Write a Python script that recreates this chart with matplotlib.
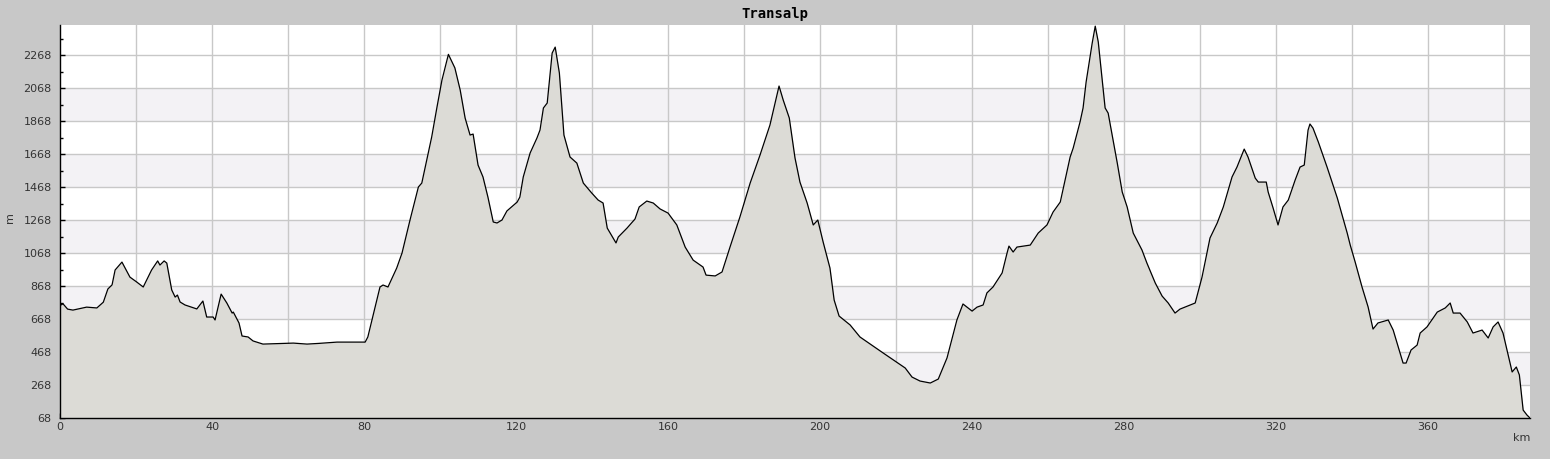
#!/usr/bin/env python3
"""Transalp elevation profile"""
import matplotlib
matplotlib.use('Agg')
import matplotlib.pyplot as plt
import numpy as np

# distance (km) and elevation (m)
distance_km = [
    0, 0.8, 2, 3.4, 7, 9.7, 11.4, 12.6, 13.7, 14.5, 16.3, 18.4, 20.2, 21.9,
    24.1, 25.7, 26.3, 27.4, 28.1, 29.4, 30.3, 30.9, 31.6, 32.9, 36, 37.6,
    38.6, 40.3, 40.8, 42.4, 43.9, 45.3, 45.6, 47.1, 47.9, 49.5, 50.8, 53.4,
    61.4, 65, 68, 72.9, 80.3, 81, 84.2, 85, 86.3, 88.6, 90, 92.1, 94.3, 95.2,
    96.5, 97.8, 99.2, 100.5, 102.2, 103.9, 105.3, 106.6, 107.9, 108.7, 110,
    111.3, 112.6, 114, 115, 116.3, 117.6, 120.3, 121, 121.9, 123.7, 125.5,
    126.3, 127.2, 128.2, 129.5, 130.3, 131.4, 132.6, 134.2, 136, 137.7, 139.9,
    141.6, 142.9, 144, 146.3, 146.9, 149.2, 151.3, 152.4, 154.4, 156.1, 157.9,
    160, 162.3, 164.5, 166.6, 169.2, 170, 172.4, 174.2, 176.3, 178.9, 181.6,
    184.2, 186.8, 189.2, 190.3, 191.9, 193.4, 194.7, 196.6, 198.2, 199.4,
    200.8, 202.6, 203.7, 205, 207.9, 210.5, 216.6, 222.4, 224.2, 226.3, 229,
    231.1, 233.4, 236, 237.6, 240, 241.3, 242.9, 243.9, 245.5, 247.9, 249.2,
    249.7, 250.8, 251.8, 255.3, 257.4, 259.7, 261.3, 263.2, 265.8, 266.6,
    268.4, 269.2, 270, 271.6, 272.4, 273.2, 275, 275.8, 278.2, 279.5, 280.8,
    282.4, 284.7, 286, 288.2, 290, 291.6, 293.4, 294.7, 298.7, 300.5, 302.6,
    304.5, 306.1, 308.4, 309.7, 311.6, 312.6, 314.5, 315.3, 317.4, 317.9,
    319.2, 320.5, 321.8, 323.2, 325, 326.3, 327.4, 328.4, 328.9, 329.7, 331.1,
    333.4, 336.1, 338.7, 339.5, 340.8, 342.6, 344.2, 345.5, 346.8, 349.5,
    350.8, 353.4, 354.2, 355.5, 357.1, 357.9, 359.7, 362.4, 364.5, 365.8,
    366.6, 368.4, 370.3, 371.8, 374.2, 375.8, 377.1, 378.4, 379.7, 380.8,
    382.1, 383.2, 384, 385, 386, 386.8,
]
elevation_m = [
    750, 760, 728, 722, 740, 735, 770, 850, 875, 965, 1013, 922, 892, 862,
    965, 1020, 995, 1020, 1007, 844, 801, 813, 771, 753, 729, 777,
    680, 680, 662, 819, 765, 704, 710, 644, 565, 559, 535, 516,
    522, 516, 520, 528, 528, 559, 862, 874, 862, 977, 1068, 1268, 1468, 1492,
    1632, 1771, 1953, 2116, 2272, 2190, 2056, 1886, 1783, 1789, 1601,
    1529, 1407, 1256, 1250, 1268, 1323, 1377, 1407, 1529, 1674, 1765,
    1813, 1947, 1977, 2280, 2316, 2159, 1783, 1650, 1613, 1492, 1432,
    1389, 1371, 1219, 1129, 1165, 1219, 1274, 1347, 1383, 1371, 1335,
    1310, 1238, 1104, 1025, 983, 934, 929, 953, 1104, 1286, 1492,
    1662, 1843, 2080, 1995, 1886, 1644, 1498, 1371, 1238, 1268,
    1135, 977, 783, 686, 632, 559, 462, 371, 316, 292, 280,
    304, 432, 662, 759, 716, 740, 753, 826, 862, 947, 1068,
    1110, 1074, 1104, 1116, 1189, 1238, 1316, 1377, 1650, 1704,
    1862, 1947, 2104, 2340, 2443, 2347, 1947, 1916, 1613, 1438, 1347,
    1189, 1086, 1007, 886, 807, 765, 704, 728, 765, 922, 1159,
    1250, 1347, 1529, 1589, 1698, 1650, 1522, 1498, 1498, 1438,
    1341, 1238, 1347, 1389, 1510, 1589, 1601, 1813, 1850, 1825, 1741,
    1589, 1401, 1189, 1116, 1013, 862, 741, 607, 644, 662,
    601, 401, 401, 480, 510, 583, 620, 710, 735, 765,
    704, 704, 650, 583, 601, 553, 620, 650, 583, 474,
    347, 377, 329, 116, 86, 68,
]

y_ticks = [68, 268, 468, 668, 868, 1068, 1268, 1468, 1668, 1868, 2068, 2268]
x_ticks = [0, 40, 80, 120, 160, 200, 240, 280, 320, 360]

BG = '#c8c8c8'
fig = plt.figure(figsize=(15.5, 4.59), dpi=100, facecolor=BG)
ax = fig.add_axes([60 / 1550, 41 / 459, 1470 / 1550, 393 / 459])
ax.set_facecolor('white')

x_max = distance_km[-1]
y_top = 2450
ax.set_xlim(0, x_max)
ax.set_ylim(68, y_top)

# 交替色带
for i in range(1, len(y_ticks) - 1, 2):
    ax.axhspan(y_ticks[i], y_ticks[i + 1], color='#f3f2f5', zorder=0, lw=0)

# 网格
for gx in np.arange(20, x_max, 20):
    ax.axvline(gx, color='#c8c8c8', lw=1, zorder=1)
for gy in y_ticks[1:]:
    ax.axhline(gy, color='#c8c8c8', lw=1, zorder=1)

ax.fill_between(distance_km, elevation_m, 68, color='#dcdbd6', lw=0, zorder=2)
ax.plot(distance_km, elevation_m, color='black', lw=0.9, zorder=3)

ax.set_xticks(x_ticks)
ax.set_xticks(np.arange(0, x_max, 10), minor=True)
ax.set_yticks(y_ticks)
ax.set_yticks(np.arange(168, y_top, 100), minor=True)
ax.tick_params(which='major', direction='in', length=3.8, width=1,
               color='black', labelsize=8, labelcolor='#333333')
ax.tick_params(which='minor', direction='in', length=2.4, width=1,
               color='black')
ax.tick_params(axis='x', pad=3)
ax.tick_params(axis='y', pad=6)

for s in ['top', 'right']:
    ax.spines[s].set_visible(False)
for s in ['left', 'bottom']:
    ax.spines[s].set_color('black')
    ax.spines[s].set_linewidth(1)

fig.text(775 / 1550, 1 - 14 / 459, 'Transalp', ha='center', va='center',
         family='DejaVu Sans Mono', fontsize=10, fontweight='bold')
fig.text(10 / 1550, 1 - 218 / 459, 'm', ha='center', va='center',
         rotation=90, fontsize=8, color='#333333')
fig.text(1522 / 1550, 1 - 438 / 459, 'km', ha='center', va='center',
         fontsize=8, color='#333333')

plt.savefig('out.png', dpi=100, facecolor=BG)
plt.close()
